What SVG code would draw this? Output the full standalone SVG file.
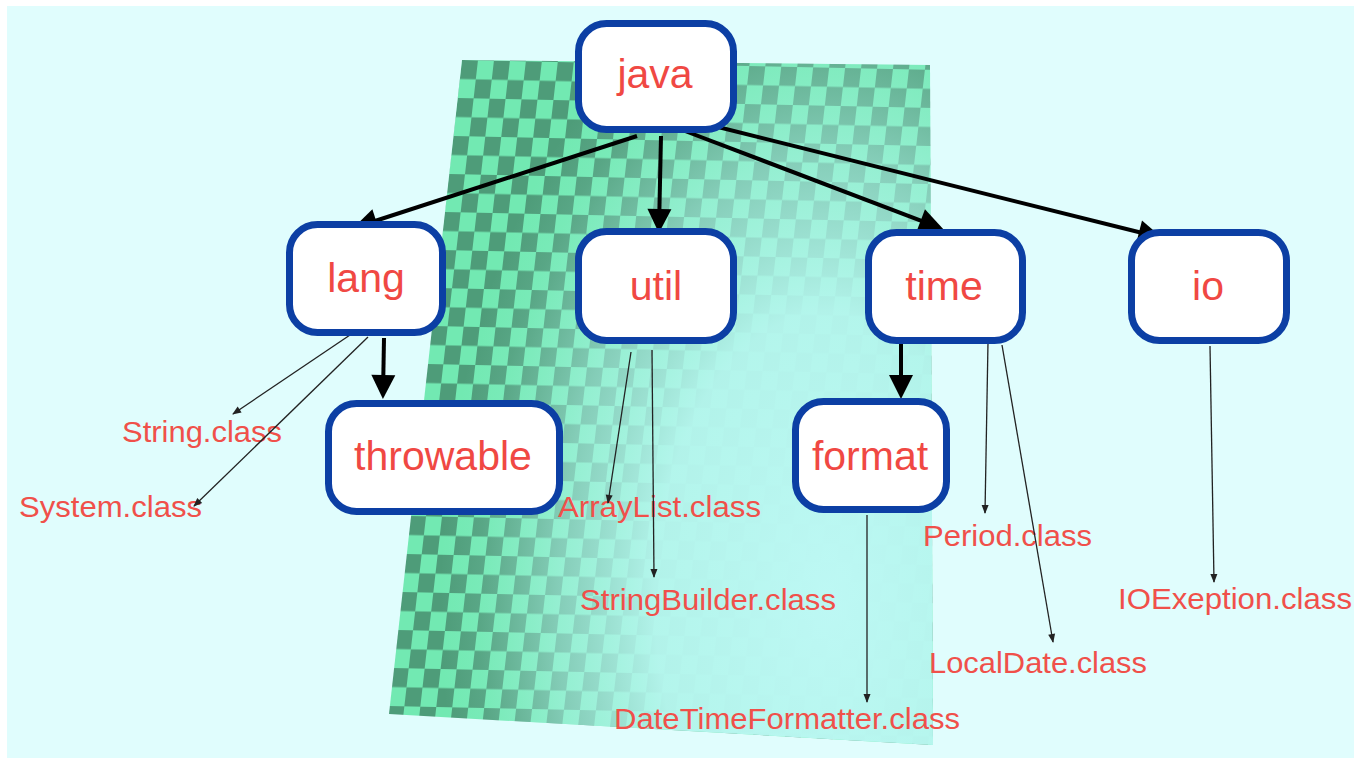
<svg xmlns="http://www.w3.org/2000/svg" width="1354" height="758" viewBox="0 0 1354 758">
  <style>
    .node rect { fill: #ffffff; stroke: #0c3fa4; stroke-width: 7; }
    .node text { font-family: "Liberation Sans", Arial, sans-serif; font-size: 41px; fill: #f04843; text-anchor: middle; }
    .leaf text { font-family: "Liberation Sans", Arial, sans-serif; font-size: 29px; fill: #f0504a; }
    .thick { stroke: #000000; stroke-width: 4; fill: none; marker-end: url(#headBig); }
    .thin { stroke: #222222; stroke-width: 1.3; fill: none; marker-end: url(#headSmall); }
  </style>
  <defs>
    <pattern id="checker" patternUnits="userSpaceOnUse" width="32" height="38" patternTransform="translate(462 60) skewX(-6.5) skewY(1.2)">
      <rect width="32" height="38" fill="#72e9b2"/>
      <rect x="0" y="0" width="16" height="19" fill="#4e9c79"/>
      <rect x="16" y="19" width="16" height="19" fill="#4e9c79"/>
    </pattern>
    <radialGradient id="fade" gradientUnits="userSpaceOnUse" cx="0" cy="0" r="1" gradientTransform="translate(830 600) scale(390 640)">
      <stop offset="0" stop-color="#bdf8f4" stop-opacity="1"/>
      <stop offset="0.45" stop-color="#b6f6ee" stop-opacity="0.96"/>
      <stop offset="0.7" stop-color="#b0f4ea" stop-opacity="0.55"/>
      <stop offset="0.9" stop-color="#a8f2e2" stop-opacity="0.12"/>
      <stop offset="1" stop-color="#a8f2e2" stop-opacity="0"/>
    </radialGradient>
    <marker id="headBig" markerUnits="userSpaceOnUse" markerWidth="24" markerHeight="24" refX="19" refY="12" orient="auto" overflow="visible">
      <path d="M0,0 L24,12 L0,24 z" fill="#000000"/>
    </marker>
    <marker id="headSmall" markerUnits="userSpaceOnUse" markerWidth="9" markerHeight="7" refX="8" refY="3.5" orient="auto" overflow="visible">
      <path d="M0,0 L9,3.5 L0,7 z" fill="#222222"/>
    </marker>
  </defs>

  <!-- page and backdrop -->
  <rect width="1354" height="758" fill="#ffffff"/>
  <rect x="7" y="6" width="1347" height="752" fill="#e0fdfd"/>

  <!-- checkered panel fading toward the lower right -->
  <g id="panel">
    <polygon points="462,60 930,65 933,745 389,714" fill="url(#checker)"/>
    <polygon points="462,60 930,65 933,745 389,714" fill="url(#fade)"/>
  </g>

  <!-- class labels -->
  <g id="string-class" class="leaf"><text x="122" y="442" textLength="160" lengthAdjust="spacingAndGlyphs">String.class</text></g>
  <g id="system-class" class="leaf"><text x="19" y="517" textLength="183" lengthAdjust="spacingAndGlyphs">System.class</text></g>
  <g id="arraylist-class" class="leaf"><text x="558" y="517" textLength="203" lengthAdjust="spacingAndGlyphs">ArrayList.class</text></g>
  <g id="stringbuilder-class" class="leaf"><text x="580" y="610" textLength="256" lengthAdjust="spacingAndGlyphs">StringBuilder.class</text></g>
  <g id="datetimeformatter-class" class="leaf"><text x="614" y="729" textLength="346" lengthAdjust="spacingAndGlyphs">DateTimeFormatter.class</text></g>
  <g id="period-class" class="leaf"><text x="923" y="546" textLength="169" lengthAdjust="spacingAndGlyphs">Period.class</text></g>
  <g id="localdate-class" class="leaf"><text x="929" y="673" textLength="218" lengthAdjust="spacingAndGlyphs">LocalDate.class</text></g>
  <g id="ioexeption-class" class="leaf"><text x="1118" y="609" textLength="234" lengthAdjust="spacingAndGlyphs">IOExeption.class</text></g>

  <!-- connectors -->
  <g id="connectors">
    <line class="thick" x1="637" y1="136" x2="358" y2="226.5"/>
    <line class="thick" x1="661" y1="136" x2="659" y2="228"/>
    <line class="thick" x1="685" y1="131" x2="938.5" y2="227.3"/>
    <line class="thick" x1="706" y1="124" x2="1157.5" y2="236.8"/>
    <line class="thick" x1="384" y1="338" x2="383" y2="394"/>
    <line class="thick" x1="901" y1="340" x2="901" y2="394"/>

    <line class="thin" x1="350" y1="335" x2="233" y2="414"/>
    <line class="thin" x1="368" y1="337" x2="194" y2="506"/>
    <line class="thin" x1="631" y1="352" x2="608" y2="503"/>
    <line class="thin" x1="652" y1="350" x2="654" y2="577"/>
    <line class="thin" x1="867" y1="515" x2="867" y2="702"/>
    <line class="thin" x1="988" y1="342" x2="985" y2="513"/>
    <line class="thin" x1="1002" y1="345" x2="1053" y2="642"/>
    <line class="thin" x1="1210" y1="346" x2="1214" y2="582"/>
  </g>

  <!-- package nodes -->
  <g id="java" class="node"><rect x="578.5" y="23.5" width="155" height="106" rx="28"/><text x="655" y="88">java</text></g>
  <g id="lang" class="node"><rect x="289.5" y="224.5" width="153" height="108" rx="28"/><text x="366" y="292">lang</text></g>
  <g id="throwable" class="node"><rect x="328.5" y="403.5" width="231" height="108" rx="28"/><text x="443" y="470">throwable</text></g>
  <g id="util" class="node"><rect x="578.5" y="231.5" width="155" height="109" rx="28"/><text x="656" y="300">util</text></g>
  <g id="time" class="node"><rect x="868.5" y="232.5" width="154" height="108" rx="28"/><text x="944" y="300">time</text></g>
  <g id="io" class="node"><rect x="1131.5" y="232.5" width="155" height="108" rx="28"/><text x="1208" y="300">io</text></g>
  <g id="format" class="node"><rect x="795.5" y="401.5" width="151" height="108" rx="28"/><text x="870" y="470">format</text></g>
</svg>
